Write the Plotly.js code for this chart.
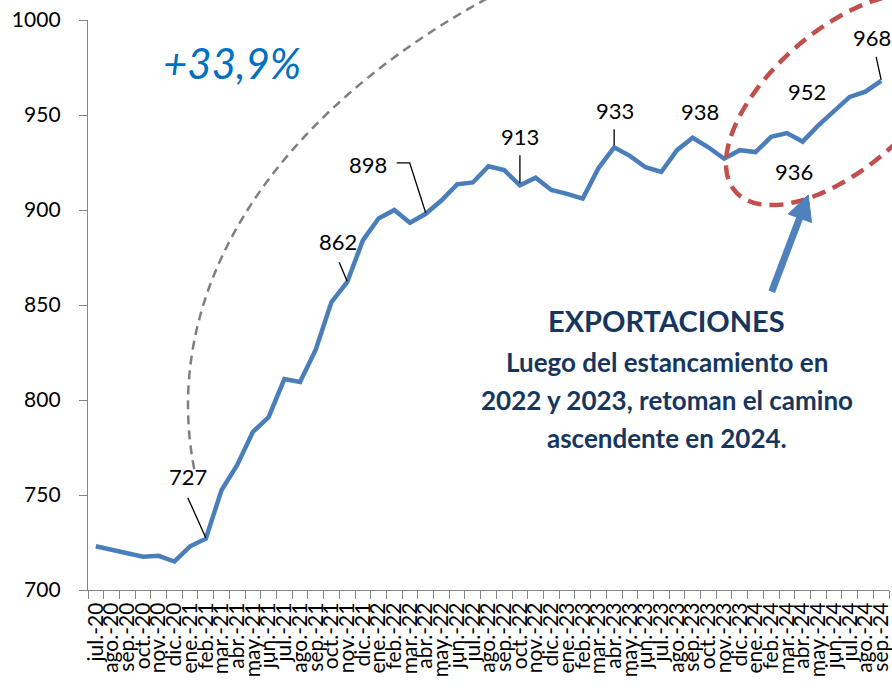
<!DOCTYPE html>
<html>
<head>
<meta charset="utf-8">
<script src="https://cdn.plot.ly/plotly-3.0.1.min.js"></script>
<style>
html,body{margin:0;padding:0;background:#fff;}
#chart{width:892px;height:695px;}
</style>
</head>
<body>
<div id="chart"></div>
<script>
// ---- Data ----
const categorias = [
  'jul.-20','ago.-20','sep.-20','oct.-20','nov.-20','dic.-20',
  'ene.-21','feb.-21','mar.-21','abr.-21','may.-21','jun.-21','jul.-21','ago.-21','sep.-21','oct.-21','nov.-21','dic.-21',
  'ene.-22','feb.-22','mar.-22','abr.-22','may.-22','jun.-22','jul.-22','ago.-22','sep.-22','oct.-22','nov.-22','dic.-22',
  'ene.-23','feb.-23','mar.-23','abr.-23','may.-23','jun.-23','jul.-23','ago.-23','sep.-23','oct.-23','nov.-23','dic.-23',
  'ene.-24','feb.-24','mar.-24','abr.-24','may.-24','jun.-24','jul.-24','ago.-24','sep.-24'
];
const exportaciones = [
  723, 721, 719.3, 717.5, 718, 715,
  723, 727, 752.5, 765.8, 783.3, 791, 811, 809.5, 826.5, 851.5, 862, 884,
  895.5, 900, 893.3, 898, 905, 913.5, 914.5, 923, 921, 913, 917, 910.5, 908.5, 906,
  922, 933, 928.5, 922.5, 920, 931.5, 938, 933, 927, 931.5,
  930.5, 938.5, 940.5, 936, 944.5, 952, 959.5, 962.3, 968
];
const yTicks = [700, 750, 800, 850, 900, 950, 1000];
const mesesEtiquetados = ['feb.-21','nov.-21','abr.-22','oct.-22','abr.-23','sep.-23','abr.-24','jun.-24','sep.-24'];

// ---- Styling / layout helpers ----
const FONT = 'Lato, "Open Sans", sans-serif';
const W = 892, H = 695, M = {l: 88, r: 3, t: 20, b: 105};
const PW = W - M.l - M.r, PH = H - M.t - M.b;
const px = x => (x - M.l) / PW;
const py = y => 1 - (y - M.t) / PH;
function pathFromPts(pts, close) {
  return pts.map((p, i) => (i ? 'L' : 'M') + px(p[0]).toFixed(5) + ',' + py(p[1]).toFixed(5)).join(' ') + (close ? ' Z' : '');
}

// label offsets (pixels) and leader lines, keyed by category
const labelStyle = {
  'feb.-21': {dx: -18, dy: 62, lead: {type: 'line', x0: -18, y0: 41, x1: 0, y1: 1}},
  'nov.-21': {dx: -9, dy: 41, lead: {type: 'line', x0: -8, y0: 20, x1: 0, y1: 1}},
  'abr.-22': {dx: -58, dy: 49, lead: {type: 'path', path: 'M-29,51 L-16,51 L0,1'}},
  'oct.-22': {dx: 0, dy: 49, lead: {type: 'line', x0: 0, y0: 30, x1: 0, y1: 2}},
  'abr.-23': {dx: 1, dy: 37, lead: {type: 'line', x0: 0, y0: 18, x1: 0, y1: 2}},
  'sep.-23': {dx: 7, dy: 26},
  'abr.-24': {dx: -9, dy: -30},
  'jun.-24': {dx: -27, dy: 20},
  'sep.-24': {dx: -9, dy: 43, lead: {type: 'line', x0: -5, y0: 24, x1: 0, y1: 1}}
};

const annotations = [];
const shapes = [];

mesesEtiquetados.forEach(cat => {
  const i = categorias.indexOf(cat);
  const v = exportaciones[i];
  const st = labelStyle[cat];
  annotations.push({
    x: cat, y: v, xref: 'x', yref: 'y', text: String(Math.round(v)),
    showarrow: false, xshift: st.dx, yshift: st.dy,
    xanchor: 'center', yanchor: 'middle',
    font: {family: FONT, size: 22, color: '#000'}
  });
  if (st.lead) {
    const s = Object.assign({
      xref: 'x', yref: 'y', xsizemode: 'pixel', ysizemode: 'pixel',
      xanchor: cat, yanchor: v, line: {color: '#000', width: 1.3}, layer: 'above'
    }, st.lead);
    shapes.push(s);
  }
});

// Gray dashed arc
const arc = [];
for (let t = 3.025; t <= 4.03; t += 0.01) arc.push([1104 + 916 * Math.cos(t), 405 + 550 * Math.sin(t)]);
shapes.push({type: 'path', xref: 'paper', yref: 'paper', path: pathFromPts(arc, false),
  line: {color: '#7f7f7f', width: 2.5, dash: '9px,6px'}, layer: 'below'});

// Red dashed ellipse
const ell = [];
const C = [841, 99.5], u = [0.755, -0.656], n = [0.656, 0.755], ea = 140, eb = 69;
for (let k = 0; k <= 210; k++) {
  const t = k / 210 * 2 * Math.PI;
  ell.push([C[0] + ea * Math.cos(t) * u[0] + eb * Math.sin(t) * n[0],
            C[1] + ea * Math.cos(t) * u[1] + eb * Math.sin(t) * n[1]]);
}
shapes.push({type: 'path', xref: 'paper', yref: 'paper', path: pathFromPts(ell, true),
  line: {color: '#C0504D', width: 4.5, dash: '14px,8px'}, layer: 'above'});

// Blue arrow
shapes.push({type: 'line', xref: 'paper', yref: 'paper',
  x0: px(771.7), y0: py(291.7), x1: px(800), y1: py(217),
  line: {color: '#4F81BD', width: 7}, layer: 'above'});
shapes.push({type: 'path', xref: 'paper', yref: 'paper',
  path: pathFromPts([[808.3, 195], [811.5, 222.5], [788.2, 214]], true),
  fillcolor: '#4F81BD', line: {color: '#4F81BD', width: 1}, layer: 'above'});

// Texts
annotations.push({xref: 'paper', yref: 'paper', x: px(231.7), y: py(63.3), text: '<i>+33,9%</i>',
  showarrow: false, xanchor: 'center', yanchor: 'middle',
  font: {family: FONT, size: 42, color: '#0070C0'}});
const navy = '#17365D';
annotations.push({xref: 'paper', yref: 'paper', x: px(666.7), y: py(320), text: '<b>EXPORTACIONES</b>',
  showarrow: false, xanchor: 'center', yanchor: 'middle', font: {family: FONT, size: 29, color: navy}});
[['Luego del estancamiento en', 361.7], ['2022 y 2023, retoman el camino', 400], ['ascendente en 2024.', 438]].forEach(([t, y]) => {
  annotations.push({xref: 'paper', yref: 'paper', x: px(666.7), y: py(y), text: '<b>' + t + '</b>',
    showarrow: false, xanchor: 'center', yanchor: 'middle', font: {family: FONT, size: 26, color: navy}});
});

const trace = {
  x: categorias, y: exportaciones, type: 'scatter', mode: 'lines',
  line: {color: '#4A7EBB', width: 4.5}, hoverinfo: 'skip', cliponaxis: false
};

const layout = {
  width: W, height: H, margin: M, paper_bgcolor: '#fff', plot_bgcolor: '#fff',
  showlegend: false,
  font: {family: FONT, color: '#000'},
  xaxis: {
    type: 'category', range: [-0.5, categorias.length - 0.5], tickson: 'boundaries',
    tickmode: 'array', tickvals: categorias, ticktext: categorias,
    ticks: 'outside', ticklen: 8, tickcolor: '#868686', tickwidth: 1,
    showline: true, linecolor: '#868686', linewidth: 1.2, showgrid: false, zeroline: false,
    tickangle: -90, tickfont: {family: FONT, size: 21, color: '#000'}, automargin: false,
    ticklabelstandoff: 3
  },
  yaxis: {
    range: [700, 1000], tickvals: yTicks, ticktext: yTicks.map(String),
    ticks: 'outside', ticklen: 8, tickcolor: '#868686', tickwidth: 1,
    showline: true, linecolor: '#868686', linewidth: 1.2, showgrid: false, zeroline: false,
    tickfont: {family: FONT, size: 21, color: '#000'}, automargin: false,
    ticklabelstandoff: 14
  },
  annotations: annotations,
  shapes: shapes
};

Plotly.newPlot('chart', [trace], layout, {staticPlot: true, displayModeBar: false});
</script>
</body>
</html>
